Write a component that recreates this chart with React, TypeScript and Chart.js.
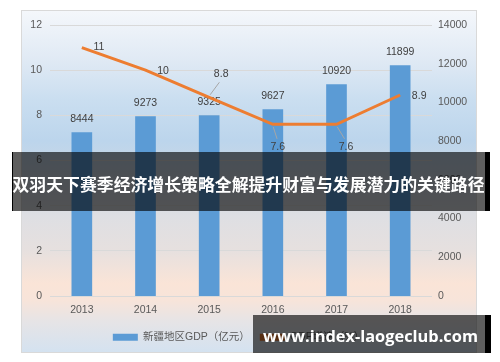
import React, { useEffect, useRef } from "react";
import { Chart, registerables } from "chart.js";

Chart.register(...registerables);

// ---- data ----
const years = ["2013", "2014", "2015", "2016", "2017", "2018"];
const gdpValues = [8444, 9273, 9325, 9627, 10920, 11899];
const growthValues = [11, 10, 8.8, 7.6, 7.6, 8.9];
const gdpLabel = "新疆地区GDP（亿元）";
const growthLabel = "GDP增速（%）";
const leftAxisMax = 12;
const leftAxisStep = 2;
const rightAxisMax = 14000;
const rightAxisStep = 2000;
const bannerText = "双羽天下赛季经济增长策略全解提升财富与发展潜力的关键路径";
const watermarkText = "www.index-laogeclub.com";

// ---- style ----
const FONT = '"Liberation Sans", "Noto Sans CJK SC", sans-serif';
const TICK_COLOR = "#595959";
const LABEL_COLOR = "#404040";
const BAR_COLOR = "#5B9BD5";
const LINE_COLOR = "#ED7D31";

// label placement relative to each line point (pixels)
const growthLabelOffsets = [
  { dx: 17, dy: 0, leader: false },
  { dx: 17.5, dy: 1, leader: false },
  { dx: 12, dy: -23, leader: true },
  { dx: 5, dy: 22.5, leader: true },
  { dx: 9.5, dy: 22.5, leader: true },
  { dx: 19, dy: 1, leader: false },
];

const dataLabelPlugin = {
  id: "dataLabels",
  afterDatasetDraw(chart: any, args: any) {
    const ctx = chart.ctx;
    const meta = args.meta;
    const ds = chart.data.datasets[args.index];
    ctx.save();
    ctx.font = `10.5px ${FONT}`;
    ctx.fillStyle = LABEL_COLOR;
    ctx.textAlign = "center";
    ctx.textBaseline = "middle";
    if (meta.type === "bar") {
      meta.data.forEach((el: any, i: number) => {
        ctx.fillText(String(ds.data[i]), el.x, el.y - 13.5);
      });
    } else {
      meta.data.forEach((el: any, i: number) => {
        const o = growthLabelOffsets[i];
        const lx = el.x + o.dx;
        const ly = el.y + o.dy;
        if (o.leader) {
          const s = Math.sign(o.dy);
          ctx.beginPath();
          ctx.strokeStyle = "#a6a6a6";
          ctx.lineWidth = 1;
          ctx.moveTo(el.x + o.dx * 0.08, el.y + s * 2.5);
          ctx.lineTo(lx - o.dx * 0.15, ly - s * 8);
          ctx.stroke();
        }
        ctx.fillStyle = LABEL_COLOR;
        ctx.fillText(String(ds.data[i]), lx, ly);
      });
    }
    ctx.restore();
  },
};

export default function App() {
  const canvasRef = useRef<HTMLCanvasElement | null>(null);

  useEffect(() => {
    if (!canvasRef.current) return;
    const tickFont = { size: 10.5, family: FONT };
    const chart = new Chart(canvasRef.current, {
      type: "bar",
      data: {
        labels: years,
        datasets: [
          {
            type: "bar",
            label: gdpLabel,
            data: gdpValues,
            backgroundColor: BAR_COLOR,
            borderWidth: 0,
            barThickness: 20,
            yAxisID: "y1",
            order: 1,
          },
          {
            type: "line",
            label: growthLabel,
            data: growthValues,
            borderColor: LINE_COLOR,
            backgroundColor: LINE_COLOR,
            borderWidth: 3,
            pointRadius: 0,
            tension: 0,
            yAxisID: "y",
            order: 0,
          },
        ],
      } as any,
      options: {
        animation: false,
        responsive: false,
        events: [],
        layout: { padding: { left: 0, right: 23, top: 25, bottom: 9.5 } },
        plugins: {
          tooltip: { enabled: false },
          legend: {
            position: "bottom",
            labels: {
              boxWidth: 25,
              boxHeight: 7,
              padding: 10,
              color: TICK_COLOR,
              font: { size: 10.5, family: FONT },
              sort: (a: any, b: any) => a.datasetIndex - b.datasetIndex,
              generateLabels: (c: any) =>
                Chart.defaults.plugins.legend.labels
                  .generateLabels(c)
                  .map((it: any) => ({ ...it, lineWidth: 0 })),
            },
          },
        },
        scales: {
          x: {
            grid: { display: false, drawTicks: false },
            border: { display: false },
            ticks: { color: TICK_COLOR, font: tickFont, padding: 8 },
            afterFit: (s: any) => {
              s.height = 26;
            },
          },
          y: {
            position: "left",
            min: 0,
            max: leftAxisMax,
            ticks: { stepSize: leftAxisStep, color: TICK_COLOR, font: tickFont, padding: 8 },
            grid: { color: "#d9d9d9", drawTicks: false },
            border: { display: false },
            afterFit: (s: any) => {
              s.width = 50;
            },
          },
          y1: {
            position: "right",
            min: 0,
            max: rightAxisMax,
            ticks: {
              stepSize: rightAxisStep,
              color: TICK_COLOR,
              font: tickFont,
              padding: 6,
              callback: (v: any) => String(v),
            },
            grid: { display: false, drawTicks: false },
            border: { display: false },
            afterFit: (s: any) => {
              s.width = 45;
            },
          },
        },
      } as any,
      plugins: [dataLabelPlugin],
    });
    return () => chart.destroy();
  }, []);

  return (
    <div
      style={{
        position: "fixed",
        left: 0,
        top: 0,
        width: 500,
        height: 362,
        background: "#ffffff",
        overflow: "hidden",
      }}
    >
      <div
        style={{
          position: "absolute",
          left: 21,
          top: 10,
          width: 456,
          height: 343,
          boxSizing: "border-box",
          border: "1px solid #d9d9d9",
          background:
            "linear-gradient(to bottom, #f4f7fb 0%, #dfe9f4 15%, #cadef0 26%, #bcd5ec 38%, #cfd8e3 50%, #dedfe3 60%, #e6e0df 70%, #fae4d7 80%, #f7e4da 85%, #e6e4e6 91%, #d4e2f0 100%)",
        }}
      />
      <canvas
        ref={canvasRef}
        width={500}
        height={362}
        style={{ position: "absolute", left: 0, top: 0, width: 500, height: 362 }}
      />
      <svg
        width={500}
        height={362}
        style={{ position: "absolute", left: 0, top: 0 }}
      >
        <rect x={12} y={152} width={473} height={59} fill="rgba(0,0,0,0.63)" />
        <rect x={12} y={152} width={1} height={59} fill="#000" />
        <rect x={485} y={152} width={5} height={59} fill="#000" />
        <text
          x={248.5}
          y={190.5}
          textAnchor="middle"
          textLength={472}
          lengthAdjust="spacingAndGlyphs"
          fill="#ffffff"
          style={{ font: '700 16.8px "Noto Sans CJK SC", sans-serif' }}
        >
          {bannerText}
        </text>
        <rect x={253} y={315} width={232} height={38} fill="rgba(0,0,0,0.63)" />
        <rect x={485} y={315} width={6} height={38} fill="#000" />
        <text
          x={263}
          y={341.5}
          textLength={215}
          lengthAdjust="spacingAndGlyphs"
          fill="#ffffff"
          style={{ font: '700 16.5px "Open Sans", sans-serif' }}
        >
          {watermarkText}
        </text>
      </svg>
    </div>
  );
}
